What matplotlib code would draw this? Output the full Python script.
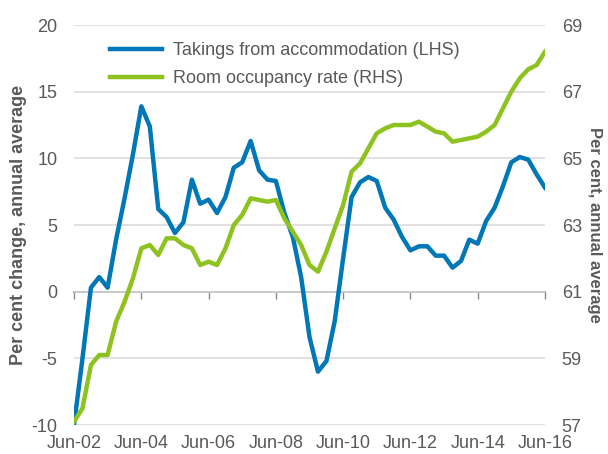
import matplotlib
matplotlib.use('Agg')
import matplotlib.pyplot as plt
import pandas as pd

# quarterly, Jun-02 .. Jun-16
quarters = pd.date_range('2002-06-30', periods=57, freq='QE')

takings = [-10.0, -5.0, 0.3, 1.1, 0.3, 3.9, 7.0, 10.3, 13.9, 12.4,
           6.2, 5.6, 4.4, 5.2, 8.4, 6.6, 6.9, 5.9, 7.1, 9.3,
           9.7, 11.3, 9.1, 8.4, 8.3, 5.9, 4.1, 1.1, -3.4, -6.0,
           -5.2, -2.2, 2.5, 7.1, 8.2, 8.6, 8.3, 6.3, 5.4, 4.1,
           3.1, 3.4, 3.4, 2.7, 2.7, 1.8, 2.3, 3.9, 3.6, 5.3,
           6.3, 7.9, 9.7, 10.1, 9.9, 8.8, 7.8]

occupancy = [57.1, 57.5, 58.8, 59.1, 59.1, 60.1, 60.7, 61.4, 62.3, 62.4,
             62.1, 62.6, 62.6, 62.4, 62.3, 61.8, 61.9, 61.8, 62.3, 63.0,
             63.3, 63.8, 63.75, 63.7, 63.75, 63.2, 62.8, 62.4, 61.8, 61.6,
             62.2, 62.9, 63.6, 64.6, 64.85, 65.3, 65.75, 65.9, 66.0, 66.0,
             66.0, 66.1, 65.95, 65.8, 65.75, 65.5, 65.55, 65.6, 65.65, 65.8,
             66.0, 66.5, 67.0, 67.4, 67.67, 67.8, 68.2]

tick_dates = pd.date_range('2002-06-30', '2016-06-30', freq='2YE-JUN')
tick_labels = ['Jun-02', 'Jun-04', 'Jun-06', 'Jun-08', 'Jun-10', 'Jun-12', 'Jun-14', 'Jun-16']

left_ticks = [-10, -5, 0, 5, 10, 15, 20]
right_ticks = [57, 59, 61, 63, 65, 67, 69]

blue = '#0077b6'
green = '#8dc21f'
txt = '#595959'

plt.rcParams['font.family'] = ['Liberation Sans', 'DejaVu Sans']
plt.rcParams['axes.unicode_minus'] = False

fig = plt.figure(figsize=(6.08, 4.54), dpi=100)
ax = fig.add_axes([74 / 608, 1 - 425 / 454, 471 / 608, 400 / 454])
ax2 = ax.twinx()

l1, = ax.plot(quarters, takings, color=blue, lw=3.2, solid_joinstyle='round')
l2, = ax2.plot(quarters, occupancy, color=green, lw=3.2, solid_joinstyle='round')

ax.set_xlim(quarters[0], quarters[-1])
ax.set_ylim(-10, 20)
ax2.set_ylim(57, 69)
ax.set_yticks(left_ticks)
ax2.set_yticks(right_ticks)
ax.set_xticks(tick_dates)
ax.set_xticklabels(tick_labels)

for a in (ax, ax2):
    for s in a.spines.values():
        s.set_visible(False)

ax.grid(axis='y', color='#d9d9d9', lw=1.1)
ax.set_axisbelow(True)
ax.tick_params(axis='both', length=0, labelsize=13, labelcolor=txt)
ax.tick_params(axis='y', pad=12)
ax.tick_params(axis='x', pad=7)
ax2.tick_params(axis='y', length=0, labelsize=13, labelcolor=txt, pad=12)

# zero line with tick marks
zero = ax.secondary_xaxis(1 / 3)
zero.set_xticks(tick_dates)
zero.tick_params(axis='x', direction='out', length=5, width=1, color='#888888', labelbottom=False)
zero.spines['bottom'].set_color('#888888')
zero.spines['bottom'].set_linewidth(1.2)

ax.set_ylabel('Per cent change, annual average', fontsize=13, fontweight='bold', color=txt, labelpad=3)
ax2.set_ylabel('Per cent, annual average', fontsize=12, fontweight='bold', color=txt,
               rotation=270, labelpad=4, va='bottom')

ax2.legend([l1, l2], ['Takings from accommodation (LHS)', 'Room occupancy rate (RHS)'],
           loc='upper left', bbox_to_anchor=(0.076, 0.957), frameon=False, fontsize=13,
           handlelength=2.9, handletextpad=0.6, labelspacing=0.6, borderpad=0,
           borderaxespad=0, labelcolor=txt)

fig.savefig('out.png', dpi=100)
